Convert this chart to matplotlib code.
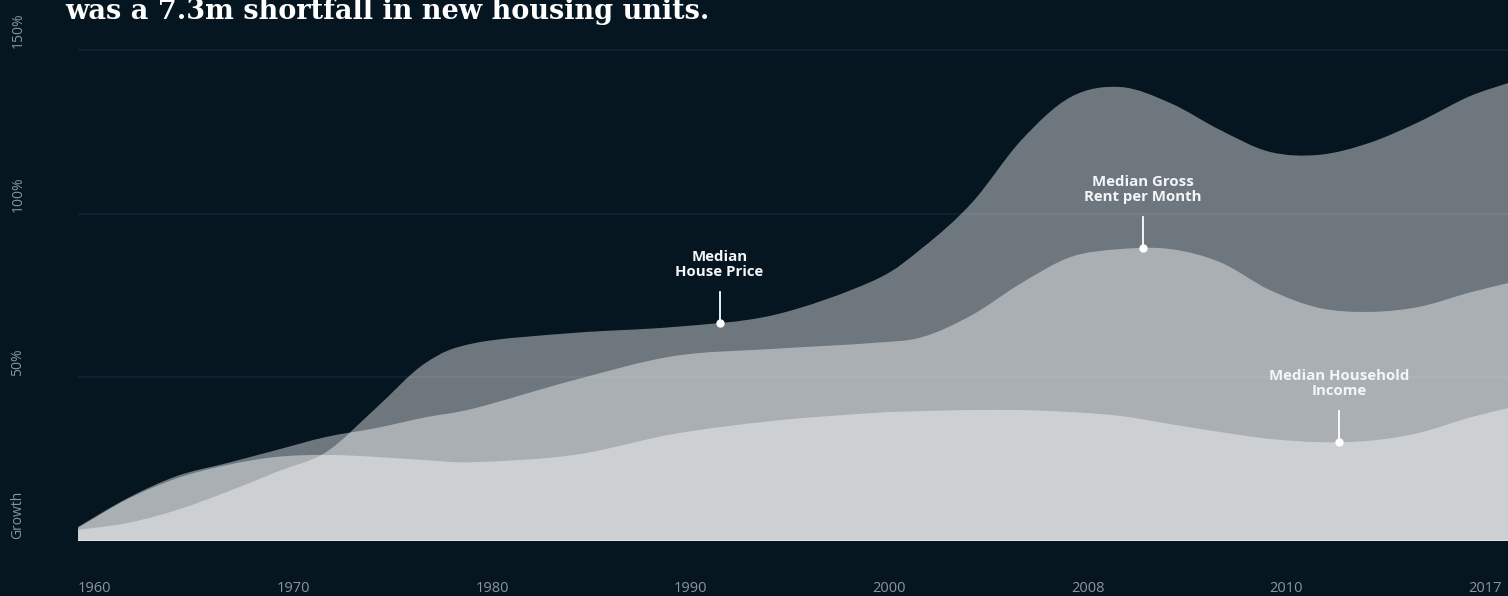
import matplotlib
matplotlib.use("Agg")
import matplotlib.pyplot as plt
from matplotlib.path import Path
from matplotlib.patches import PathPatch
import numpy as np

# category axis (years shown as evenly spaced ticks)
years = ["1960", "1970", "1980", "1990", "2000", "2008", "2010", "2017"]

# sample positions along the category axis
xs = [0, 0.25, 0.5, 0.75, 1, 1.25, 1.5, 1.75, 2, 2.5, 3, 3.5, 4,
      4.25, 4.5, 4.75, 5, 5.25, 5.5, 5.75, 6, 6.25, 6.5, 6.75, 7, 7.2]

# growth in percent
house_price = [3.4, 5.5, 9.5, 15.0, 21.1, 27.2, 40.6, 54.4, 60.5, 63.6, 65.4, 69.0, 79.4,
               89.5, 103.3, 122.5, 135.7, 138.7, 133.8, 125.6, 118.9, 118.0, 121.6, 128.0, 135.7, 139.9]
gross_rent = [4.3, 13.1, 19.9, 23.8, 27.8, 31.8, 34.5, 37.8, 40.6, 49.2, 56.5, 58.7, 60.5,
              62.3, 69.0, 78.8, 86.8, 89.2, 89.2, 85.2, 76.7, 71.2, 70.0, 71.5, 75.8, 78.8]
income = [4.0, 12.8, 19.2, 23.2, 25.7, 26.3, 25.7, 24.7, 24.1, 26.3, 32.7, 36.7, 39.1,
          39.7, 40.0, 40.0, 39.4, 38.2, 35.7, 33.3, 31.2, 30.2, 30.6, 33.0, 37.6, 40.6]

# annotations
ann_text = ["Median\nHouse Price", "Median Gross\nRent per Month", "Median Household\nIncome"]
ann_x = [3.23, 5.36, 6.35]
ann_y = [66.6, 89.5, 30.2]

ytick_vals = [0, 50, 100, 150]
ytick_text = ["Growth", "50%", "100%", "150%"]

bg = "#061621"


def smooth_area(x, y):
    # catmull-rom through the points, converted to cubic bezier segments
    p = np.column_stack([x, y]).astype(float)
    n = len(p)
    verts = [(p[0, 0], 0.0), tuple(p[0])]
    codes = [Path.MOVETO, Path.LINETO]
    for i in range(n - 1):
        p0 = p[i - 1] if i > 0 else p[i]
        p1 = p[i]
        p2 = p[i + 1]
        p3 = p[i + 2] if i + 2 < n else p[i + 1]
        c1 = p1 + (p2 - p0) / 6
        c2 = p2 - (p3 - p1) / 6
        verts += [tuple(c1), tuple(c2), tuple(p2)]
        codes += [Path.CURVE4] * 3
    verts += [(p[-1, 0], 0.0), (p[0, 0], 0.0)]
    codes += [Path.LINETO, Path.CLOSEPOLY]
    return Path(verts, codes)


fig = plt.figure(figsize=(15.08, 5.96), dpi=100, facecolor=bg)
ax = fig.add_axes([78 / 1508, 55 / 596, 1430 / 1508, 541 / 596])
ax.set_facecolor(bg)
ax.set_xlim(0, 7.2)
ax.set_ylim(0, 165.3)

for v in ytick_vals[1:]:
    ax.axhline(v, color="#112431", lw=1.2, zorder=0)

for series in [house_price, gross_rent, income]:
    ax.add_patch(PathPatch(smooth_area(xs, series), facecolor="white",
                           edgecolor="none", alpha=0.42, zorder=2))
ax.axhline(0, color="#dde1e4", lw=1.5, zorder=3)

for t, x, y in zip(ann_text, ann_x, ann_y):
    ax.plot([x, x], [y, y + 9.5], color="white", lw=1.3, zorder=4)
    ax.plot(x, y, "o", ms=5, color="white", zorder=5)
    ax.text(x, y + 13.5, t, ha="center", va="bottom", color="#f4f5f6",
            fontsize=10.8, fontweight="bold", family="Open Sans",
            linespacing=1.05, zorder=5)

ax.set_xticks(range(len(years)))
ax.set_xticklabels(years, ha="left", color="#8c959b", fontsize=10.5, family="Open Sans")
ax.tick_params(axis="x", length=0, pad=29)
ax.set_yticks([])
for s in ax.spines.values():
    s.set_visible(False)

for v, t in zip(ytick_vals, ytick_text):
    ax.text(-0.042, v + 0.5, t, transform=ax.get_yaxis_transform(), rotation=90,
            rotation_mode="anchor", ha="left", va="center", color="#8a939a",
            fontsize=10, family="Open Sans", clip_on=False)

fig.text(65 / 1508, 1 - 19 / 596, "was a 7.3m shortfall in new housing units.",
         color="white", fontsize=19.5, fontweight="bold", family="DejaVu Serif",
         va="baseline", ha="left")

fig.savefig("out.png", dpi=100, facecolor=bg)
